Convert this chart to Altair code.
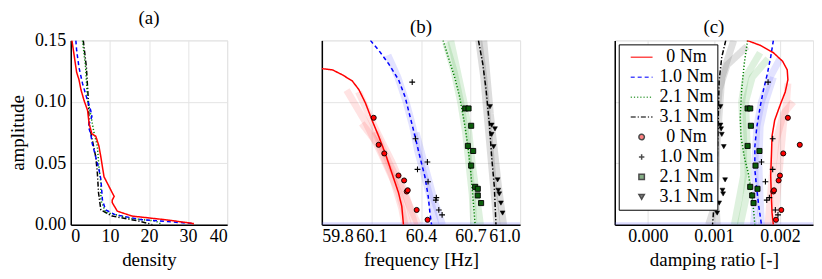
import altair as alt
import pandas as pd

FONT = "'Liberation Serif', 'DejaVu Serif', 'Times New Roman', serif"

# ---------------- panel (a): density of amplitude ----------------
a_amp_0 = [0.150, 0.137, 0.124, 0.118, 0.110, 0.101, 0.093, 0.082, 0.074, 0.072, 0.064, 0.055, 0.047, 0.039, 0.031, 0.026, 0.023, 0.020, 0.018, 0.011, 0.007, 0.004, 0.001, 0.0]
a_den_0 = [0.3, 0.9, 1.5, 2.1, 2.6, 3.4, 4.3, 4.7, 5.4, 6.4, 7.2, 7.7, 8.1, 8.5, 9.8, 10.6, 11.1, 10.6, 10.6, 11.9, 15.7, 24.3, 31.3, 31.3]
a_amp_1 = [0.150, 0.142, 0.128, 0.115, 0.104, 0.093, 0.088, 0.082, 0.080, 0.074, 0.066, 0.055, 0.045, 0.037, 0.020, 0.012, 0.008, 0.004, 0.001, 0.0]
a_den_1 = [1.3, 1.5, 2.1, 3.0, 4.0, 5.1, 5.4, 4.7, 4.5, 5.1, 5.5, 6.4, 7.2, 7.7, 8.1, 8.9, 11.5, 18.3, 31.1, 31.1]
a_amp_2 = [0.150, 0.128, 0.101, 0.093, 0.074, 0.064, 0.047, 0.034, 0.020, 0.010, 0.005, 0.003, 0.0]
a_den_2 = [3.0, 3.8, 4.3, 4.9, 6.0, 6.8, 7.2, 7.7, 7.7, 8.9, 15.7, 21.7, 23.4]
a_amp_3 = [0.150, 0.128, 0.101, 0.082, 0.069, 0.055, 0.042, 0.026, 0.012, 0.007, 0.003, 0.0]
a_den_3 = [3.2, 4.0, 4.5, 4.7, 5.5, 6.4, 6.8, 7.1, 7.7, 10.6, 17.4, 20.9]

# ---------------- panel (b): frequency ----------------
b_amp_0 = [0.127, 0.126, 0.122, 0.117, 0.110, 0.099, 0.085, 0.072, 0.058, 0.042, 0.026, 0.015, 0.0]
b_frq_0 = [59.80, 59.864, 59.924, 59.984, 60.024, 60.064, 60.104, 60.144, 60.184, 60.224, 60.264, 60.284, 60.294]
b_amp_1 = [0.150, 0.142, 0.131, 0.118, 0.104, 0.088, 0.072, 0.055, 0.039, 0.023, 0.010, 0.0]
b_frq_1 = [60.094, 60.144, 60.204, 60.264, 60.304, 60.334, 60.364, 60.394, 60.424, 60.444, 60.454, 60.464]
b_amp_2 = [0.150, 0.137, 0.120, 0.104, 0.082, 0.064, 0.045, 0.023, 0.0]
b_frq_2 = [60.534, 60.564, 60.604, 60.634, 60.664, 60.684, 60.700, 60.714, 60.728]
b_amp_3 = [0.150, 0.131, 0.110, 0.082, 0.055, 0.031, 0.0]
b_frq_3 = [60.748, 60.774, 60.794, 60.814, 60.828, 60.844, 60.854]

# faint sample curves (b)
fb_r = [
    ([59.95, 60.063, 60.163, 60.263, 60.323], [0.1095, 0.0838, 0.0568, 0.027, 0.0]),
    ([60.022, 60.123, 60.223, 60.303, 60.363], [0.1081, 0.0784, 0.0514, 0.027, 0.0]),
    ([60.042, 60.143, 60.223, 60.283, 60.303], [0.0824, 0.0649, 0.0405, 0.0135, 0.0]),
    ([60.123, 60.203, 60.283, 60.383], [0.0757, 0.0514, 0.0297, 0.0]),
]
fb_b = [
    ([60.20, 60.26, 60.31, 60.35, 60.38, 60.42, 60.46, 60.49], [0.138, 0.12, 0.10, 0.08, 0.06, 0.04, 0.02, 0.0]),
    ([60.37, 60.40, 60.44, 60.48, 60.53], [0.075, 0.06, 0.04, 0.02, 0.0]),
]
fb_g = [
    ([60.55, 60.60, 60.64, 60.67, 60.69, 60.71, 60.72], [0.148, 0.125, 0.10, 0.075, 0.05, 0.025, 0.0]),
    ([60.58, 60.62, 60.66, 60.69, 60.71, 60.735, 60.76], [0.15, 0.125, 0.10, 0.075, 0.05, 0.025, 0.0]),
]
fb_k = [
    ([60.75, 60.78, 60.80, 60.82, 60.84, 60.86], [0.15, 0.12, 0.09, 0.06, 0.03, 0.0]),
    ([60.78, 60.80, 60.82, 60.845, 60.87, 60.90], [0.15, 0.12, 0.09, 0.06, 0.03, 0.0]),
]
fb_base = ([59.8, 61.0], [0.0, 0.0])

# ---------------- panel (c): damping ratio ----------------
c_amp_0 = [0.150, 0.146, 0.140, 0.133, 0.126, 0.118, 0.108, 0.097, 0.085, 0.072, 0.055, 0.040, 0.023, 0.010, 0.0]
c_dmp_0 = [0.00150, 0.00170, 0.00190, 0.00204, 0.00211, 0.00212, 0.00208, 0.00200, 0.00192, 0.00188, 0.00187, 0.00186, 0.00187, 0.00188, 0.00190]
c_amp_1 = [0.150, 0.1365, 0.123, 0.1095, 0.0959, 0.0797, 0.0635, 0.0446, 0.0284, 0.0149, 0.0]
c_dmp_1 = [0.00190, 0.00186, 0.00181, 0.00175, 0.00170, 0.00165, 0.00162, 0.00162, 0.00165, 0.00168, 0.00172]
c_amp_2 = [0.150, 0.1311, 0.1095, 0.0878, 0.0716, 0.0554, 0.0419, 0.0257, 0.0122, 0.0]
c_dmp_2 = [0.00151, 0.00146, 0.00142, 0.00140, 0.00141, 0.00146, 0.00152, 0.00157, 0.00160, 0.00162]
c_amp_3 = [0.150, 0.1365, 0.1176, 0.0959, 0.0716, 0.050, 0.0311, 0.0149, 0.0]
c_dmp_3 = [0.00118, 0.00112, 0.00108, 0.00107, 0.00106, 0.00105, 0.00103, 0.00100, 0.00098]

fc_k = [
    ([0.00105, 0.00102, 0.00104, 0.00108, 0.00112, 0.0013], [0.0, 0.03, 0.06, 0.09, 0.12, 0.15]),
    ([0.00092, 0.00098, 0.00104, 0.00103, 0.00108, 0.0012, 0.0015], [0.0, 0.01, 0.04, 0.08, 0.11, 0.13, 0.145]),
]
fc_g = [
    ([0.00131, 0.00138, 0.00145, 0.00145, 0.00142, 0.00148, 0.0017], [0.0, 0.02, 0.04, 0.07, 0.10, 0.12, 0.14]),
    ([0.00140, 0.00148, 0.00152, 0.00150, 0.00148, 0.00158, 0.00182], [0.0, 0.02, 0.04, 0.07, 0.10, 0.12, 0.135]),
]
fc_b = [
    ([0.00160, 0.00163, 0.00162, 0.00165, 0.00172, 0.00185, 0.0020], [0.0, 0.02, 0.05, 0.08, 0.10, 0.12, 0.135]),
    ([0.00172, 0.00170, 0.00168, 0.00170, 0.00178, 0.0019], [0.0, 0.02, 0.05, 0.08, 0.10, 0.12]),
]
fc_r = [
    ([0.00190, 0.00195, 0.00200, 0.00205, 0.00210, 0.00212], [0.0, 0.02, 0.05, 0.08, 0.10, 0.115]),
    ([0.00182, 0.00185, 0.00190, 0.00195, 0.00205, 0.0022], [0.0, 0.02, 0.05, 0.07, 0.09, 0.10]),
]
fc_base = ([-0.0005, 0.0025], [0.0, 0.0])

# ---------------- identified points (b) and (c) ----------------
p_amp_0 = [0.087, 0.065, 0.058, 0.040, 0.036, 0.027, 0.028, 0.012, 0.004]
p_frq_0 = [60.114, 60.144, 60.178, 60.264, 60.298, 60.314, 60.320, 60.374, 60.440]
p_dmp_0 = [0.00212, 0.00230, 0.00205, 0.00200, 0.00198, 0.00190, 0.00191, 0.00202, 0.00194]
p_amp_1 = [0.116, 0.070, 0.045, 0.051, 0.035, 0.022, 0.020, 0.012, 0.008]
p_frq_1 = [60.347, 60.367, 60.379, 60.439, 60.443, 60.493, 60.490, 60.508, 60.528]
p_dmp_1 = [0.00182, 0.00189, 0.00189, 0.00172, 0.00178, 0.00184, 0.00180, 0.00193, 0.00197]
p_amp_2 = [0.0946, 0.0946, 0.0805, 0.0641, 0.060, 0.0481, 0.0308, 0.0292, 0.0238, 0.0176]
p_frq_2 = [60.668, 60.688, 60.704, 60.684, 60.716, 60.704, 60.728, 60.744, 60.744, 60.764]
p_dmp_2 = [0.00151, 0.00155, 0.00156, 0.00151, 0.00169, 0.00163, 0.00155, 0.00166, 0.00158, 0.00160]
p_amp_3 = [0.096, 0.081, 0.078, 0.0735, 0.0635, 0.0365, 0.028, 0.025, 0.0176, 0.0095]
p_frq_3 = [60.818, 60.828, 60.848, 60.828, 60.840, 60.864, 60.868, 60.874, 60.884, 60.894]
p_dmp_3 = [0.00110, 0.00110, 0.00111, 0.00112, 0.00115, 0.00117, 0.00113, 0.00114, 0.00108, 0.00105]

legend_keys = ["0 Nm", "1.0 Nm", "2.1 Nm", "3.1 Nm", "0 Nm ", "1.0 Nm ", "2.1 Nm ", "3.1 Nm "]

RED, BLUE, GREEN, BLACK = "#ff0000", "#0000ff", "#008000", "#000000"
SQ_GREEN = "#0b5e0b"
PLUS = "M-1,0H1M0,-1V1"
LINE_SYM = "M-4,0H4"
DASH = {"solid": [1, 0], "dash": [4, 3], "dot": [1.2, 2], "dashdot": [5, 2, 1.2, 2]}

Y_DOM = [0, 0.15]


def y_enc(show):
    if show:
        ax = alt.Axis(values=[0, 0.05, 0.10, 0.15], format=".2f", title="amplitude",
                      titlePadding=7, labelPadding=5)
    else:
        ax = alt.Axis(values=[0, 0.05, 0.10, 0.15], labels=False, title=None)
    return alt.Y("amp:Q", scale=alt.Scale(domain=Y_DOM, nice=False, zero=False), axis=ax)


def line(xs, ys, xenc, xfield, show_y, color, dash, width=1.5, opacity=1.0):
    df = pd.DataFrame({xfield: xs, "amp": ys, "i": list(range(len(xs)))})
    return alt.Chart(df).mark_line(color=color, strokeDash=dash, strokeWidth=width,
                                   opacity=opacity, clip=True).encode(
        x=xenc, y=y_enc(show_y), order=alt.Order("i:Q"))


def pts(xs, ys, xenc, xfield, **mk):
    df = pd.DataFrame({xfield: xs, "amp": ys})
    return alt.Chart(df).mark_point(clip=True, opacity=1, **mk).encode(x=xenc, y=y_enc(False))


# ---------- panel (a) ----------
xa = alt.X("den:Q", scale=alt.Scale(domain=[0, 40], nice=False),
           axis=alt.Axis(values=[0, 10, 20, 30, 40], format="d", title="density"))
pa = alt.layer(
    line(a_den_3, a_amp_3, xa, "den", True, BLACK, DASH["dashdot"]),
    line(a_den_2, a_amp_2, xa, "den", True, GREEN, DASH["dot"]),
    line(a_den_1, a_amp_1, xa, "den", True, BLUE, DASH["dash"]),
    line(a_den_0, a_amp_0, xa, "den", True, RED, DASH["solid"]),
).properties(width=157, height=185, title="(a)")

# ---------- panel (b) ----------
xb = alt.X("frq:Q", scale=alt.Scale(domain=[59.8, 61.0], nice=False, zero=False),
           axis=alt.Axis(values=[59.8, 60.1, 60.4, 60.7, 61.0], format=".1f", title="frequency [Hz]"))
FA = 0.15
FW = 7
b_layers = [line(*fb_base, xb, "frq", False, "#6f6fff", [1, 0], width=5, opacity=0.25)]
for xs, ys in fb_k:
    b_layers.append(line(xs, ys, xb, "frq", False, "#555555", [1, 0], width=FW, opacity=0.2))
for xs, ys in fb_g:
    b_layers.append(line(xs, ys, xb, "frq", False, "#22a022", [1, 0], width=FW, opacity=FA))
for xs, ys in fb_b:
    b_layers.append(line(xs, ys, xb, "frq", False, "#4040ff", [1, 0], width=FW, opacity=FA))
for xs, ys in fb_r:
    b_layers.append(line(xs, ys, xb, "frq", False, "#ff4040", [1, 0], width=FW, opacity=FA))
b_layers += [
    line(b_frq_3, b_amp_3, xb, "frq", False, BLACK, DASH["dashdot"]),
    line(b_frq_2, b_amp_2, xb, "frq", False, GREEN, DASH["dot"]),
    line(b_frq_1, b_amp_1, xb, "frq", False, BLUE, DASH["dash"]),
    line(b_frq_0, b_amp_0, xb, "frq", False, RED, DASH["solid"]),
    pts(p_frq_0, p_amp_0, xb, "frq", shape="circle", filled=True, fill=RED, stroke=BLACK, strokeWidth=0.9, size=26),
    pts(p_frq_1, p_amp_1, xb, "frq", shape=PLUS, filled=False, stroke=BLACK, strokeWidth=1.1, size=34),
    pts(p_frq_2, p_amp_2, xb, "frq", shape="square", filled=True, fill=SQ_GREEN, stroke=BLACK, strokeWidth=0.9, size=26),
    pts(p_frq_3, p_amp_3, xb, "frq", shape="triangle-down", filled=True, fill=BLACK, stroke=BLACK, strokeWidth=0.5, size=24),
]
pb = alt.layer(*b_layers).properties(width=199, height=185, title="(b)")

# ---------- panel (c) ----------
xc = alt.X("dmp:Q", scale=alt.Scale(domain=[-0.0005, 0.0025], nice=False, zero=False),
           axis=alt.Axis(values=[0, 0.001, 0.002], format=".3f", title="damping ratio [-]"))
c_layers = [line(*fc_base, xc, "dmp", False, "#6f6fff", [1, 0], width=5, opacity=0.25)]
for xs, ys in fc_k:
    c_layers.append(line(xs, ys, xc, "dmp", False, "#555555", [1, 0], width=FW, opacity=0.18))
for xs, ys in fc_g:
    c_layers.append(line(xs, ys, xc, "dmp", False, "#22a022", [1, 0], width=FW, opacity=FA))
for xs, ys in fc_b:
    c_layers.append(line(xs, ys, xc, "dmp", False, "#4040ff", [1, 0], width=FW, opacity=FA))
for xs, ys in fc_r:
    c_layers.append(line(xs, ys, xc, "dmp", False, "#ff4040", [1, 0], width=FW, opacity=FA))
c_layers += [
    line(c_dmp_3, c_amp_3, xc, "dmp", False, BLACK, DASH["dashdot"]),
    line(c_dmp_2, c_amp_2, xc, "dmp", False, GREEN, DASH["dot"]),
    line(c_dmp_1, c_amp_1, xc, "dmp", False, BLUE, DASH["dash"]),
    line(c_dmp_0, c_amp_0, xc, "dmp", False, RED, DASH["solid"]),
    pts(p_dmp_0, p_amp_0, xc, "dmp", shape="circle", filled=True, fill=RED, stroke=BLACK, strokeWidth=0.9, size=26),
    pts(p_dmp_1, p_amp_1, xc, "dmp", shape=PLUS, filled=False, stroke=BLACK, strokeWidth=1.1, size=34),
    pts(p_dmp_2, p_amp_2, xc, "dmp", shape="square", filled=True, fill=SQ_GREEN, stroke=BLACK, strokeWidth=0.9, size=26),
    pts(p_dmp_3, p_amp_3, xc, "dmp", shape="triangle-down", filled=True, fill=BLACK, stroke=BLACK, strokeWidth=0.5, size=24),
]

leg = alt.Legend(
    title=None, orient="top-left", offset=4, padding=4, strokeColor="black", fillColor="white",
    cornerRadius=0, labelFont=FONT, labelFontSize=18, labelColor="black", rowPadding=2,
    symbolSize=30, symbolStrokeWidth=1.5, symbolOffset=10, labelOffset=36, labelAlign="center",
    labelExpr="trim(datum.label)", zindex=1,
)
leg_df = pd.DataFrame({"key": legend_keys})
dummy = alt.Chart(leg_df).mark_point(filled=True, size=30, strokeWidth=1.5).encode(
    shape=alt.Shape("key:N", scale=alt.Scale(domain=legend_keys,
                    range=[LINE_SYM] * 4 + ["circle", PLUS, "square", "triangle-down"]), legend=leg),
    fill=alt.Fill("key:N", scale=alt.Scale(domain=legend_keys,
                  range=["transparent"] * 4 + [RED, BLACK, SQ_GREEN, BLACK]), legend=leg),
    stroke=alt.Stroke("key:N", scale=alt.Scale(domain=legend_keys,
                      range=[RED, BLUE, GREEN, BLACK] + [BLACK] * 4), legend=leg),
    strokeDash=alt.StrokeDash("key:N", scale=alt.Scale(domain=legend_keys,
                              range=[DASH["solid"], DASH["dash"], DASH["dot"], DASH["dashdot"]] + [[1, 0]] * 4),
                              legend=leg),
).transform_filter("datum.key == 'none'")
c_layers.append(dummy)
pc = alt.layer(*c_layers).properties(width=199, height=185, title="(c)")

chart = alt.hconcat(pa, pb, pc, spacing=95, bounds="flush").properties(
    padding={"left": 0, "top": 0, "right": 0, "bottom": 5}
).resolve_scale(
    shape="independent", fill="independent", stroke="independent", strokeDash="independent"
).resolve_legend(
    shape="independent", fill="independent", stroke="independent", strokeDash="independent"
).configure_axis(
    labelFont=FONT, labelFontSize=18, labelColor="black", titleFont=FONT, titleFontSize=19,
    titleFontWeight="normal", titleColor="black", gridColor="#e4e4e4", gridWidth=1,
    domainColor="black", domainWidth=1.5, ticks=False, labelPadding=3, titlePadding=5,
).configure_view(stroke="#e4e4e4").configure_title(
    font=FONT, fontSize=19, fontWeight="normal", color="black", offset=3, anchor="middle"
)

chart.save("out.html", embed_options={"renderer": "svg", "actions": False})
